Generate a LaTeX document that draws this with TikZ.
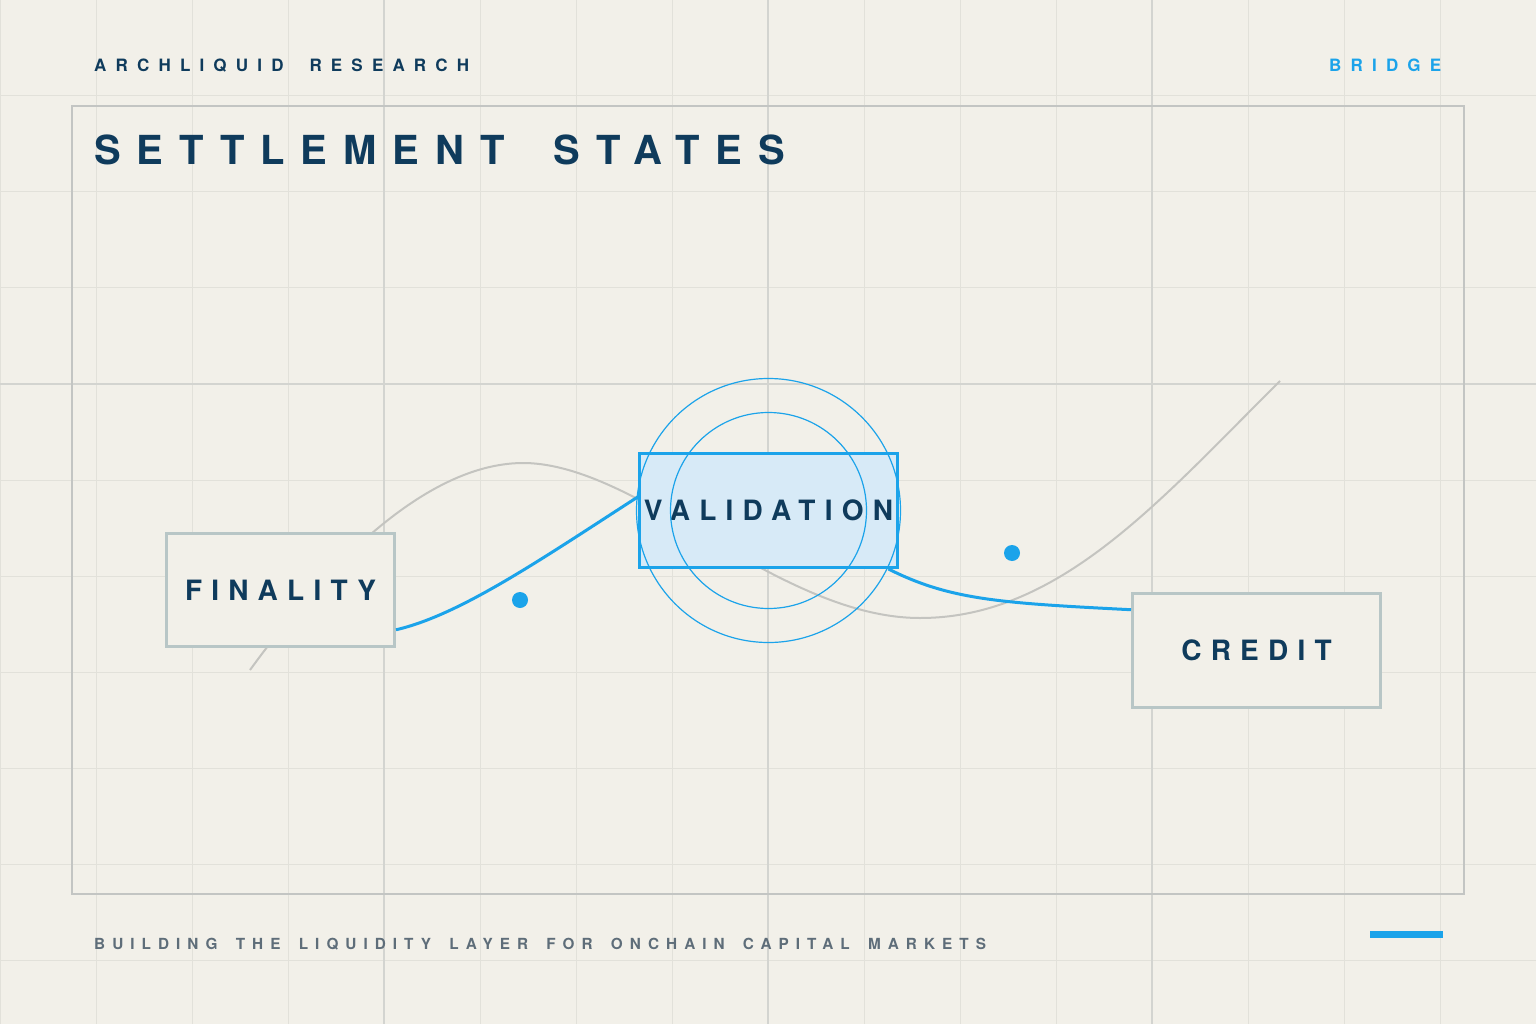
\documentclass[tikz,border=0pt]{standalone}
\usepackage{fontspec}
\setmainfont{TeX Gyre Heros}
\definecolor{paper}{HTML}{F2F0E9}
\definecolor{gridminor}{HTML}{E2E1DA}
\definecolor{gridmajor}{HTML}{D3D4D0}
\definecolor{framegray}{HTML}{C3C5C3}
\definecolor{navy}{HTML}{0F3B5C}
\definecolor{sky}{HTML}{1BA3EA}
\definecolor{skyfill}{HTML}{D7EAF7}
\definecolor{boxline}{HTML}{B8C6C6}
\definecolor{wave}{HTML}{C4C4C0}
\definecolor{slate}{HTML}{5E6D79}

\begin{document}
\begin{tikzpicture}[x=1pt, y=-1pt,
  state/.style={draw=boxline, line width=3pt, fill=paper, text=navy, inner sep=0pt,
    font=\bfseries\fontsize{28}{28}\selectfont\addfontfeatures{LetterSpace=33}},
  active/.style={state, draw=sky, fill=skyfill},
  tag/.style={anchor=base west, inner sep=0pt, font={\bfseries\fontsize{17}{17}\selectfont\addfontfeatures{LetterSpace=54}\spaceskip 26pt\relax}},
  link/.style={draw=sky, line width=3pt}]
\useasboundingbox (0,0) rectangle (1536,1024);
\fill[paper] (0,0) rectangle (1536,1024);
\foreach \i in {0,96,...,1536} \draw[gridminor, line width=1pt] (\i,0) -- (\i,1024);
\foreach \j in {0,96,...,1024} \draw[gridminor, line width=1pt] (0,\j) -- (1536,\j);
\foreach \i in {384,768,1152} \draw[gridmajor, line width=1.4pt] (\i,0) -- (\i,1024);
\draw[gridmajor, line width=1.4pt] (0,384) -- (1536,384);
\draw[framegray, line width=1.4pt] (72,106) rectangle (1464,894);

\node[tag, text=navy] (brand) at (94,72) {ARCHLIQUID RESEARCH};
\node[tag, text=sky] (section) at (1329,72) {BRIDGE};
\node[anchor=base west, inner sep=0pt, text=navy,
  font={\bfseries\fontsize{40}{40}\selectfont\addfontfeatures{LetterSpace=40}\spaceskip 49pt\relax}] (title) at (94,165) {SETTLEMENT STATES};
\node[anchor=base west, inner sep=0pt, text=slate,
  font={\bfseries\fontsize{15.3}{15.3}\selectfont\addfontfeatures{LetterSpace=46}\spaceskip 18.3pt\relax}] (motto) at (94,949) {BUILDING THE LIQUIDITY LAYER FOR ONCHAIN CAPITAL MARKETS};
\fill[sky] (1370,931) rectangle (1443,938);

\draw[wave, line width=2pt] (250,670) .. controls (330,560) and (430,462) .. (525,463)
  .. controls (640,465) and (780,618) .. (920,618)
  .. controls (1060,618) and (1160,500) .. (1280,381);

\node[state, minimum width=228pt, minimum height=113pt] (fin) at (280.5,590) {FINALITY};
\node[active, minimum width=258pt, minimum height=114pt] (val) at (768.5,510.5) {VALIDATION};
\node[state, minimum width=248pt, minimum height=114pt] (cred) at (1256.5,650.5) {CREDIT};

\draw[sky, line width=1.2pt] (val.center) circle (132) (val.center) circle (98);

\draw[link] (fin.-19) .. controls (460,615) and (540,560) .. (val.174);
\draw[link] (val.-26) .. controls (950,600) and (1000,603) .. (cred.162);
\fill[sky] (520,600) circle (8) (1012,553) circle (8);
\end{tikzpicture}
\end{document}
